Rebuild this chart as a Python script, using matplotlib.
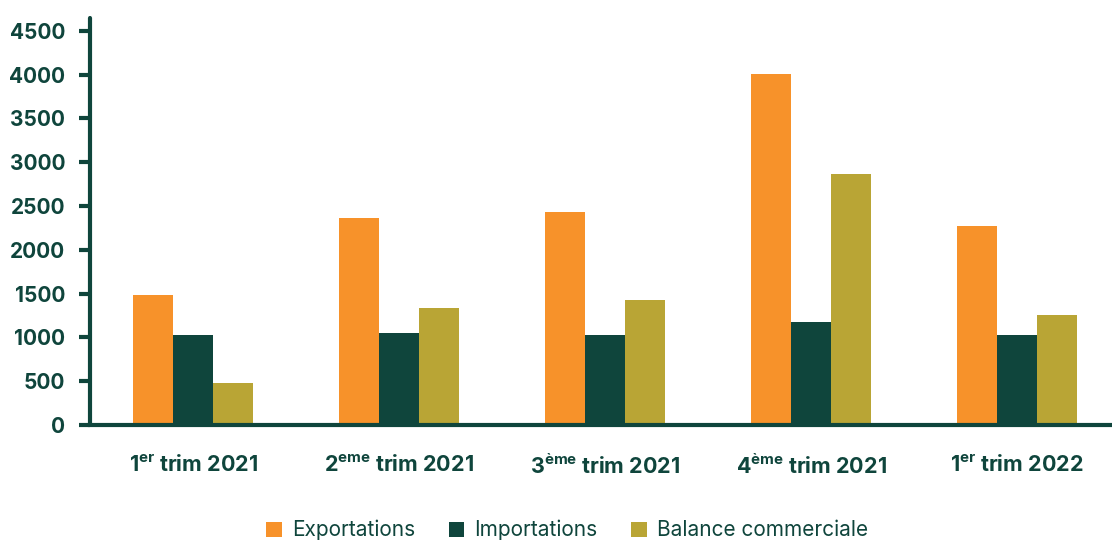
import numpy as np
import matplotlib
matplotlib.use("Agg")
import matplotlib.pyplot as plt

# data
categories = [r"$\mathbf{1^{er}}$ trim 2021", r"$\mathbf{2^{eme}}$ trim 2021",
              r"$\mathbf{3^{ème}}$ trim 2021", r"$\mathbf{4^{ème}}$ trim 2021",
              r"$\mathbf{1^{er}}$ trim 2022"]
exportations = [1485, 2364, 2433, 4009, 2273]
importations = [1028, 1051, 1028, 1176, 1028]
balance = [480, 1336, 1428, 2867, 1256]
yticks = [0, 500, 1000, 1500, 2000, 2500, 3000, 3500, 4000, 4500]

GREEN = "#0f453c"
ORANGE = "#f7922a"
OLIVE = "#b9a535"

plt.rcParams["font.family"] = ["Inter", "DejaVu Sans"]
plt.rcParams["mathtext.fontset"] = "custom"
plt.rcParams["mathtext.bf"] = "Inter:bold"
plt.rcParams["mathtext.rm"] = "Inter"

fig = plt.figure(figsize=(11.12, 5.41), dpi=100)
ax = fig.add_axes([0.081, 0.2144, 0.919, 0.7526])

x = np.arange(len(categories))
w = 0.195
ax.bar(x - w, exportations, w, color=ORANGE, label="Exportations")
ax.bar(x, importations, w, color=GREEN, label="Importations")
ax.bar(x + w, balance, w, color=OLIVE, label="Balance commerciale")

ax.set_xlim(-0.5, 4.46)
ax.set_ylim(0, 4648)
ax.set_yticks(yticks)
ax.set_yticklabels([str(v) for v in yticks], fontsize=15, fontweight="bold", color=GREEN)
ax.set_xticks(x)
ax.set_xticklabels(categories, fontsize=15.5, fontweight="bold", color=GREEN)
ax.tick_params(axis="y", length=8, width=3, color=GREEN, pad=10)
ax.tick_params(axis="x", length=0, pad=21)

for side in ["top", "right"]:
    ax.spines[side].set_visible(False)
for side in ["left", "bottom"]:
    ax.spines[side].set_color(GREEN)
    ax.spines[side].set_linewidth(3)
ax.spines["left"].set_capstyle("round")

leg = fig.legend(loc="center", bbox_to_anchor=(0.51, 0.02), ncol=3, frameon=False,
                 fontsize=15, handlelength=0.75, handleheight=0.75,
                 handletextpad=0.5, columnspacing=1.6)
for t in leg.get_texts():
    t.set_color(GREEN)

fig.savefig("out.png", dpi=100)
